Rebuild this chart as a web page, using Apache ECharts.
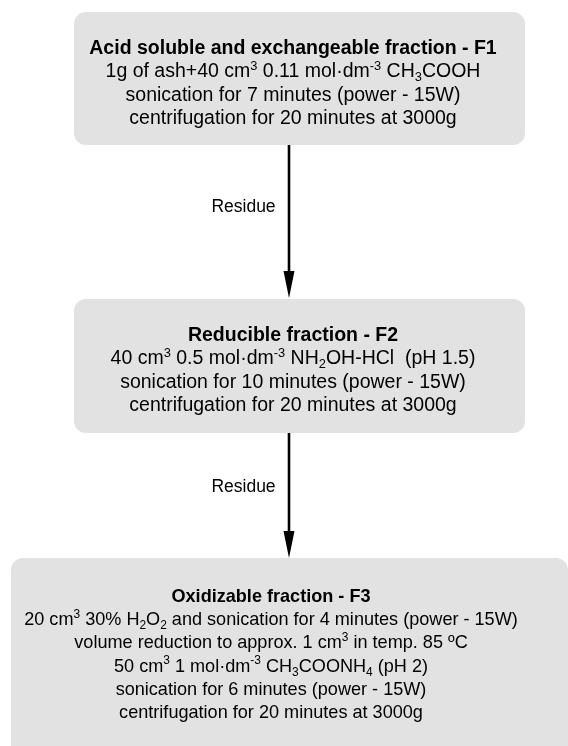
<!DOCTYPE html>
<html>
<head>
<meta charset="utf-8">
<script src="https://cdn.jsdelivr.net/npm/echarts@6/dist/echarts.min.js"></script>
<style>
html,body{margin:0;padding:0;background:#fff;}
#chart{width:568px;height:746px;}
</style>
</head>
<body>
<div id="chart"></div>
<script>
// Flowchart content
const boxTitles = [
  'Acid soluble and exchangeable fraction - F1',
  'Reducible fraction - F2',
  'Oxidizable fraction - F3'
];
const boxLines = [
  [
    '1g of ash+40 cm{sup|3} 0.11 mol·dm{sup|-3} CH{sub|3}COOH',
    'sonication for 7 minutes (power - 15W)',
    'centrifugation for 20 minutes at 3000g'
  ],
  [
    '40 cm{sup|3} 0.5 mol·dm{sup|-3} NH{sub|2}OH-HCl  (pH 1.5)',
    'sonication for 10 minutes (power - 15W)',
    'centrifugation for 20 minutes at 3000g'
  ],
  [
    '20 cm{sup|3} 30% H{sub|2}O{sub|2} and sonication for 4 minutes (power - 15W)',
    'volume reduction to approx. 1 cm{sup|3} in temp. 85 ºC',
    '50 cm{sup|3} 1 mol·dm{sup|-3} CH{sub|3}COONH{sub|4} (pH 2)',
    'sonication for 6 minutes (power - 15W)',
    'centrifugation for 20 minutes at 3000g'
  ]
];
// Box extents in chart units (x: 0..568, y: 0..746 top-down)
const boxLeft   = [74, 74, 11];
const boxRight  = [525, 525, 568];
const boxTop    = [12, 299, 558];
const boxBottom = [145, 433, 770];
const textCenterX = [293, 293, 271];
const textMidY    = [83.5, 370.5, 655];

// Arrows between boxes
const arrowX     = [289, 289];
const arrowStart = [145, 433];
const arrowEnd   = [298, 558];
const arrowLabels = ['Residue', 'Residue'];
const arrowLabelX = [243.5, 243.5];
const arrowLabelY = [207, 487];

const FONT = 'Arial, "Liberation Sans", sans-serif';
const boxFontSize = [19.5, 19.5, 18.1];

const boxData = boxTitles.map((t, i) => [boxLeft[i], boxTop[i], boxRight[i], boxBottom[i], textCenterX[i], textMidY[i], i]);
const arrowData = arrowX.map((x, i) => [x, arrowStart[i], arrowEnd[i], arrowLabelX[i], arrowLabelY[i], i]);

const chart = echarts.init(document.getElementById('chart'), null, {renderer: 'canvas'});

chart.setOption({
  animation: false,
  backgroundColor: '#ffffff',
  grid: {left: 0, right: 0, top: 0, bottom: 0},
  xAxis: {type: 'value', min: 0, max: 568, show: false},
  yAxis: {type: 'value', min: 0, max: 746, inverse: true, show: false},
  series: [
    {
      type: 'custom',
      clip: false,
      data: boxData,
      renderItem: function (params, api) {
        const i = api.value(6);
        const fs = boxFontSize[i];
        const small = fs * 0.66;
        const p1 = api.coord([api.value(0), api.value(1)]);
        const p2 = api.coord([api.value(2), api.value(3)]);
        const c = api.coord([api.value(4), api.value(5)]);
        const text = ['{b|' + boxTitles[i] + '}'].concat(boxLines[i]).join('\n');
        return {
          type: 'group',
          children: [
            {
              type: 'rect',
              shape: {x: p1[0], y: p1[1], width: p2[0] - p1[0], height: p2[1] - p1[1], r: 12},
              style: {fill: '#e2e2e2'}
            },
            {
              type: 'text',
              x: c[0],
              y: c[1],
              style: {
                text: text,
                align: 'center',
                verticalAlign: 'middle',
                fill: '#000',
                fontFamily: FONT,
                fontSize: fs,
                lineHeight: 23.3,
                rich: {
                  b: {fontWeight: 'bold', fontSize: fs, fontFamily: FONT, fill: '#000', lineHeight: 23.3},
                  sup: {fontSize: small, fontFamily: FONT, fill: '#000', verticalAlign: 'top', lineHeight: 15},
                  sub: {fontSize: small, fontFamily: FONT, fill: '#000', verticalAlign: 'bottom', lineHeight: 16}
                }
              }
            }
          ]
        };
      }
    },
    {
      type: 'custom',
      clip: false,
      data: arrowData,
      renderItem: function (params, api) {
        const i = api.value(5);
        const a = api.coord([api.value(0), api.value(1)]);
        const b = api.coord([api.value(0), api.value(2)]);
        const l = api.coord([api.value(3), api.value(4)]);
        const headLen = 27, headHalf = 5.5;
        return {
          type: 'group',
          children: [
            {
              type: 'line',
              shape: {x1: a[0], y1: a[1], x2: b[0], y2: b[1] - headLen + 2},
              style: {stroke: '#000', lineWidth: 2.6}
            },
            {
              type: 'polygon',
              shape: {points: [[b[0] - headHalf, b[1] - headLen], [b[0] + headHalf, b[1] - headLen], [b[0], b[1]]]},
              style: {fill: '#000'}
            },
            {
              type: 'text',
              x: l[0],
              y: l[1],
              style: {
                text: arrowLabels[i],
                align: 'center',
                verticalAlign: 'middle',
                fill: '#000',
                fontFamily: FONT,
                fontSize: 17.5
              }
            }
          ]
        };
      }
    }
  ]
});
</script>
</body>
</html>
